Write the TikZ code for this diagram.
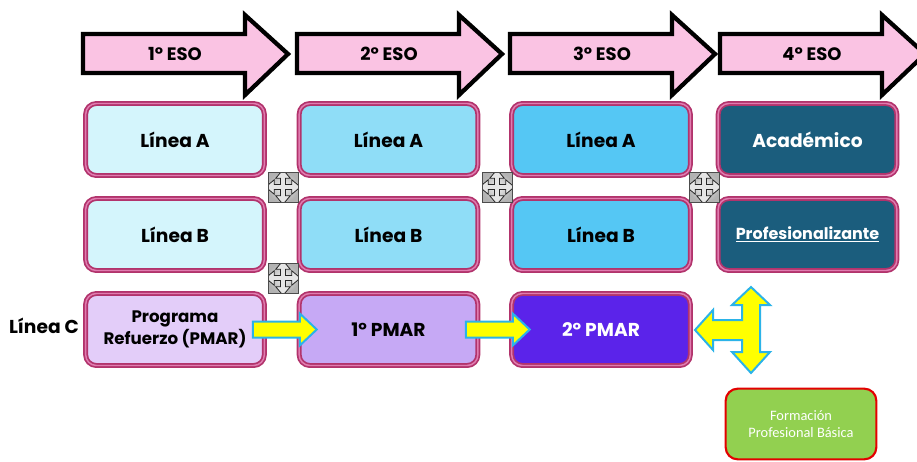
\documentclass[tikz,border=0pt]{standalone}
\usepackage{fontspec}
\setmainfont{Poppins}
\newfontfamily\calfont{Carlito}
\usetikzlibrary{calc}
\definecolor{arrowpink}{HTML}{FAC3E3}
\definecolor{bordout}{HTML}{B2336C}
\definecolor{bordin}{HTML}{E07CB0}
\definecolor{cA}{HTML}{D4F5FC}
\definecolor{cB}{HTML}{8FDDF7}
\definecolor{cC}{HTML}{55C7F4}
\definecolor{cD}{HTML}{1B5D7D}
\definecolor{pA}{HTML}{E3CDF9}
\definecolor{pB}{HTML}{C6A9F5}
\definecolor{pC}{HTML}{5B23EA}
\definecolor{yel}{HTML}{FFFF00}
\definecolor{yelline}{HTML}{2BB3E8}
\definecolor{fpgreen}{HTML}{92D050}
\definecolor{fpred}{HTML}{E30000}
\tikzset{
  esoshape/.style={draw=black, line width=3.2pt, fill=arrowpink, line join=miter},
  esotext/.style={font=\bfseries\fontsize{13.5}{15}\selectfont, text=black},
  lbox/.style={rectangle, rounded corners=8pt, draw=bordout, double=bordin,
     double distance=1.1pt, line width=1.3pt, minimum width=134pt, minimum height=54pt,
     font=\bfseries\fontsize{14}{16}\selectfont, align=center, inner sep=2pt},
  ybar/.style={draw=yelline, fill=yel, line width=1.5pt, line join=miter},
  moveicon/.style={rectangle, minimum size=22.5pt, inner sep=0pt, draw=gray!60!black,
     line width=0.6pt, inner color=gray!10, outer color=gray!60,
     path picture={
       \begin{scope}[shift={(path picture bounding box.center)}, rotate=45, x=1pt, y=1pt]
         \filldraw[fill=gray!20, draw=gray!30!black, line width=0.6pt]
          (1.9,1.9) -- (1.9,6.5) -- (5.5,6.5) -- (0,13) -- (-5.5,6.5) -- (-1.9,6.5) -- (-1.9,1.9)
          -- (-6.5,1.9) -- (-6.5,5.5) -- (-13,0) -- (-6.5,-5.5) -- (-6.5,-1.9) -- (-1.9,-1.9)
          -- (-1.9,-6.5) -- (-5.5,-6.5) -- (0,-13) -- (5.5,-6.5) -- (1.9,-6.5) -- (1.9,-1.9)
          -- (6.5,-1.9) -- (6.5,-5.5) -- (13,0) -- (6.5,5.5) -- (6.5,1.9) -- cycle;
       \end{scope}}},
  rarrow/.pic={\draw[ybar] (-32,-8) -- (15,-8) -- (15,-16) -- (32,0) -- (15,16) -- (15,8) -- (-32,8) -- cycle;}
}
\newcommand\esoarrow[3]{%
  \draw[esoshape] (#1,34) -- (#1+162,34) -- (#1+162,15) -- (#1+205,54) -- (#1+162,95) -- (#1+162,73) -- (#1,73) -- cycle;
  \node[esotext] (#3) at (#1+92,54) {#2};}
\begin{document}
\begin{tikzpicture}[x=0.75pt, y=-0.75pt]
\useasboundingbox (0,0) rectangle (917,461);
% header arrows
\esoarrow{83}{1º ESO}{h1}
\esoarrow{297}{2º ESO}{h2}
\esoarrow{510}{3º ESO}{h3}
\esoarrow{720}{4º ESO}{h4}
% row A
\node[lbox, fill=cA] (a1) at (175,139.5) {Línea A};
\node[lbox, fill=cB] (a2) at (388.5,139.5) {Línea A};
\node[lbox, fill=cC] (a3) at (601,139.5) {Línea A};
\node[lbox, fill=cD, text=white] (a4) at (807.5,139.5) {Académico};
% row B
\node[lbox, fill=cA] (b1) at (175,234.5) {Línea B};
\node[lbox, fill=cB] (b2) at (388.5,234.5) {Línea B};
\node[lbox, fill=cC] (b3) at (601,234.5) {Línea B};
\node[lbox, fill=cD, text=white, font=\bfseries\fontsize{12}{14}\selectfont] (b4) at (807.5,234.5) {\underline{Profesionalizante}};
% row C
\node[font=\bfseries\fontsize{14}{16}\selectfont] (lc) at (44,326) {Línea C};
\node[lbox, fill=pA, font=\bfseries\fontsize{12.5}{17}\selectfont] (c1) at (175,329.5) {Programa\\Refuerzo (PMAR)};
\node[lbox, fill=pB] (c2) at (388.5,329.5) {1º PMAR};
\node[lbox, fill=pC, text=white] (c3) at (601,329.5) {2º PMAR};
% move icons
\node[moveicon] (m1) at (283,187) {};
\node[moveicon] (m2) at (283,278) {};
\node[moveicon] (m3) at (497,187) {};
\node[moveicon] (m4) at (704,187) {};
% yellow arrows
\pic at ($(c1.east)!0.5!(c2.west)+(3,0)$) {rarrow};
\pic at ($(c2.east)!0.5!(c3.west)+(3,0)$) {rarrow};
% three-way arrow
\draw[ybar] (695,330) -- (713,310) -- (713,320) -- (742,320) -- (742,305) -- (732,305)
  -- (751,287) -- (770,305) -- (760,305) -- (760,352) -- (770,352) -- (751,373)
  -- (732,352) -- (742,352) -- (742,340) -- (713,340) -- (713,350) -- cycle;
% FP Basica
\node[rectangle, rounded corners=9pt, draw=fpred, line width=1.6pt, fill=fpgreen,
  minimum width=113pt, minimum height=53pt, text=white, align=center,
  font=\calfont\fontsize{10.8}{13.3}\selectfont] (fp) at (801,424) {Formación\\Profesional Básica};
\end{tikzpicture}
\end{document}
